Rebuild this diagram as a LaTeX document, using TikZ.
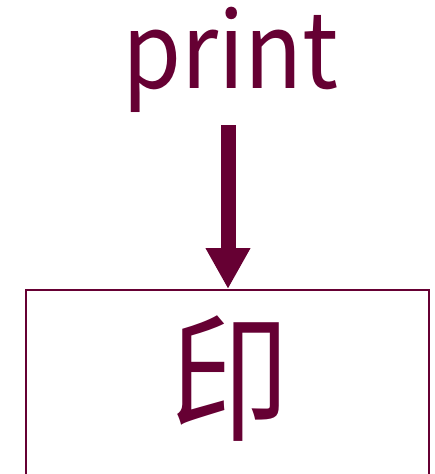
\documentclass[tikz,border=0pt]{standalone}
\usepackage{fontspec}
\setmainfont{Noto Sans CJK SC}
\usetikzlibrary{arrows.meta}
\definecolor{maroon}{HTML}{660033}
\tikzset{
  lbl/.style={text=maroon, inner sep=0pt, anchor=base},
  boxstyle/.style={draw=maroon, line width=1.8pt, minimum width=403pt, minimum height=300pt, anchor=north, inner sep=0pt},
  bigarrow/.style={draw=maroon, line width=15pt, -{Triangle[width=42pt,length=41pt]}}
}
\begin{document}
\begin{tikzpicture}[x=1pt,y=-1pt]
\useasboundingbox (0,0) rectangle (434,474);
\clip (0,0) rectangle (434,474);
\node[lbl, font=\fontsize{105}{105}\selectfont] (p) at (230.5,88) {\scalebox{0.91}[1]{print}};
\node[boxstyle] (box) at (227.5,289) {};
\node[lbl, font=\fontsize{140}{140}\selectfont] (yin) at (229.5,430) {\scalebox{0.85}[1]{印}};
\coordinate (s) at (228,125);
\draw[bigarrow] (s) -- (box.north -| s);
\end{tikzpicture}
\end{document}
